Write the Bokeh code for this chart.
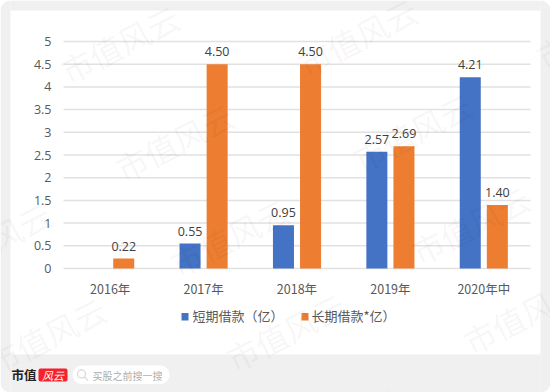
from bokeh.plotting import figure
from bokeh.embed import file_html
from bokeh.resources import INLINE
from bokeh.models import ColumnDataSource, BoxAnnotation, Label, PolyAnnotation, FixedTicker, Range1d
from bokeh.core.properties import value

categories = ["2016年", "2017年", "2018年", "2019年", "2020年中"]
short_term = [None, 0.55, 0.95, 2.57, 4.21]
long_term = [0.22, 4.50, 4.50, 2.69, 1.40]
y_ticks = [0, 0.5, 1, 1.5, 2, 2.5, 3, 3.5, 4, 4.5, 5]
y_labels = ["0", "0.5", "1", "1.5", "2", "2.5", "3", "3.5", "4", "4.5", "5"]
series_names = ["短期借款（亿）", "长期借款*亿）"]
series_colors = ["#4472c4", "#ed7d31"]
watermark = "市值风云"
search_hint = "买股之前搜一搜"

FONT = "Noto Sans CJK SC"
W, H = 550, 392
PL, PR, PT, PB = 63, 530, 41, 268  # plot area in page pixels
ux = (PR - PL) / len(categories)
uy = (PB - PT) / 5

# The frame fills the whole canvas so the card, legend and footer can be drawn on it.
p = figure(width=W, height=H, x_range=Range1d(-PL / ux, (W - PL) / ux),
           y_range=Range1d(-(H - PB) / uy, PB / uy), output_backend="svg", toolbar_location=None,
           min_border=0)
p.border_fill_color = "white"
p.background_fill_color = "white"
p.outline_line_color = None
p.xgrid.visible = False
p.ygrid.visible = False

fx = lambda x: x
fy = lambda y: H - y

def box(l, r, t, b, color, **kw):
    p.add_layout(BoxAnnotation(left=fx(l), right=fx(r), top=fy(t), bottom=fy(b),
                      left_units="screen", right_units="screen", top_units="screen", bottom_units="screen",
                      fill_alpha=kw.pop("fill_alpha", 1), fill_color=color, line_color=kw.pop("line_color", None),
                      level="annotation", **kw))

def label(x, y, text, **kw):
    p.add_layout(Label(x=fx(x), y=fy(y), x_units="screen", y_units="screen", text=text,
                       text_baseline="middle", level="annotation", **kw))

# grid lines, limited to the plot area
n = len(categories)
p.segment(x0=[0] * len(y_ticks), x1=[n] * len(y_ticks), y0=y_ticks, y1=y_ticks,
          line_color="#e1e1e1", line_width=1.5)

centers = [i + 0.5 for i in range(n)]
src = ColumnDataSource(dict(
    x1=[c - 0.145 for c in centers], x2=[c + 0.145 for c in centers], s=short_term, l=long_term,
    sl=["" if v is None else f"{v:.2f}" for v in short_term], ll=[f"{v:.2f}" for v in long_term]))
p.vbar(x="x1", top="s", width=0.225, source=src, fill_color=series_colors[0], line_color=None)
p.vbar(x="x2", top="l", width=0.225, source=src, fill_color=series_colors[1], line_color=None)
for xc, col in (("x1", "s"), ("x2", "l")):
    p.text(x=xc, y=col, text=col + "l", source=src, text_align="center", text_baseline="bottom", y_offset=-8,
           text_font=value("Open Sans"), text_font_size="12.5px", text_color="#404040")

p.yaxis.fixed_location = 0
p.yaxis.ticker = FixedTicker(ticks=y_ticks)
p.yaxis.major_label_overrides = dict(zip(y_ticks, y_labels))
p.yaxis.axis_line_color = None
p.yaxis.major_tick_line_color = None
p.yaxis.minor_tick_line_color = None
p.yaxis.major_tick_out = 0
p.yaxis.major_label_text_font = "Open Sans"
p.yaxis.major_label_text_font_size = "12.5px"
p.yaxis.major_label_text_color = "#595959"
p.yaxis.major_label_standoff = 12
p.xaxis.fixed_location = 0
p.xaxis.ticker = FixedTicker(ticks=centers)
p.xaxis.major_label_overrides = dict(zip(centers, categories))
p.xaxis.axis_line_color = None
p.xaxis.major_tick_line_color = None
p.xaxis.minor_tick_line_color = None
p.xaxis.major_tick_out = 0
p.xaxis.major_label_text_font = FONT
p.xaxis.major_label_text_font_size = "12.5px"
p.xaxis.major_label_text_color = "#595959"
p.xaxis.major_label_standoff = 10

# grey card frame around the white panel
box(0, 10, 0, 392, "#f0f0f0", border_radius=(10, 0, 0, 10))
box(540, 550, 0, 392, "#f0f0f0", border_radius=(0, 10, 10, 0))
box(10, 540, 0, 10, "#f0f0f0")
box(10, 540, 354, 392, "#f0f0f0")

# legend
box(181, 188, 312.5, 320, series_colors[0])
label(192, 315, series_names[0], text_font=FONT, text_font_size="13px", text_color="#595959")
box(301, 308, 312.5, 320, series_colors[1])
label(311, 315, series_names[1], text_font=FONT, text_font_size="13px", text_color="#595959")

# footer brand
label(11, 374, "市值", text_font=FONT, text_font_size="12.5px", text_font_style="bold", text_color="#222222")
box(38, 67, 368, 381, "#f5222d", border_radius=2)
label(52.5, 374.5, "风云", text_font=FONT, text_font_size="11px", text_font_style="italic",
      text_color="white", text_align="center")
box(72, 169, 365, 383.5, "white", border_radius=9)
box(77, 85, 369.5, 377.5, "white", fill_alpha=0, line_color="#8c8c8c", line_width=1.3, border_radius=4)
p.add_layout(PolyAnnotation(xs=[fx(84), fx(87.5)], ys=[fy(376.5), fy(380)], xs_units="screen", ys_units="screen",
                            fill_alpha=0, line_color="#8c8c8c", line_width=1.3, level="annotation"))
label(92, 374.5, search_hint, text_font=FONT, text_font_size="10px", text_color="#adadad")

# watermark on top of everything
wm = [(62, 72), (117, 170), (172, 265), (228, 360), (284, 455),
      (300, 65), (355, 160), (413, 253), (465, 343),
      (538, 58), (-66, 269), (-11, 364)]
for x, y in wm:
    label(x, y, watermark, text_font=FONT, text_font_size="32px", text_color="#000000", text_alpha=0.05,
          angle=27, angle_units="deg", text_align="left")

open("out.html", "w").write(file_html(p, INLINE))
